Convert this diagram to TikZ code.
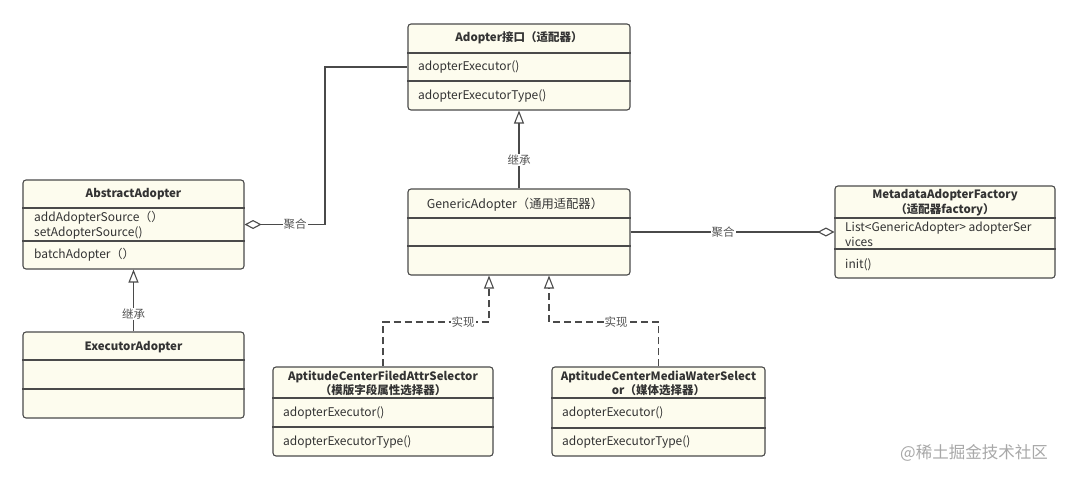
\documentclass[tikz,border=0pt]{standalone}
\usepackage{fontspec}
\setmainfont{Noto Sans CJK SC}
\usetikzlibrary{arrows.meta,calc}
\definecolor{boxfill}{HTML}{FDFCEE}
\definecolor{linec}{HTML}{4A4A4A}
\definecolor{txt}{HTML}{333333}
\definecolor{ltxt}{HTML}{555555}
\definecolor{wm}{HTML}{A8A8A8}
\tikzset{
  cls/.style={draw=linec, line width=1.1pt, fill=boxfill, rounded corners=3pt, inner sep=0pt},
  div/.style={draw=linec, line width=1.1pt},
  hdr/.style={font=\fontsize{11.5}{14.5}\selectfont\bfseries, text=txt, inner sep=0pt, align=center},
  hdrn/.style={font=\fontsize{12.3}{14}\selectfont, text=txt, inner sep=0pt, align=center},
  row/.style={font=\fontsize{12}{15}\selectfont, text=txt, inner sep=0pt, anchor=west, align=left},
  conn/.style={draw=linec, line width=1.1pt},
  inh/.style={conn, -{Triangle[open, length=13pt, width=10pt]}},
  real/.style={conn, dash pattern=on 7pt off 4pt, -{Triangle[open, length=13pt, width=10pt]}},
  aggs/.style={conn, {Diamond[open, length=17pt, width=9pt]}-},
  agge/.style={conn, -{Diamond[open, length=17pt, width=9pt]}},
  lbl/.style={fill=white, inner sep=1pt, font=\fontsize{11.5}{13}\selectfont, text=ltxt},
}
\begin{document}
\begin{tikzpicture}[x=1pt, y=-1pt]
\useasboundingbox[fill=white] (0,0) rectangle (1080,480);

% Adopter interface
\node[cls, minimum width=222pt, minimum height=86pt] (ad) at (519,67) {};
\draw[div] (ad.west |- 0,53) -- (ad.east |- 0,53);
\draw[div] (ad.west |- 0,81) -- (ad.east |- 0,81);
\node[hdr] (adh) at (519,38) {Adopter接口（适配器）};
\node[row] (ad1) at (418,67) {adopterExecutor()};
\node[row] (ad2) at (418,96) {adopterExecutorType()};

% AbstractAdopter
\node[cls, minimum width=221pt, minimum height=89pt] (abs) at (133.5,224.5) {};
\draw[div] (abs.west |- 0,208) -- (abs.east |- 0,208);
\draw[div] (abs.west |- 0,241) -- (abs.east |- 0,241);
\node[hdr] (absh) at (133.5,194) {AbstractAdopter};
\node[row] (abs1) at (34,217.5) {addAdopterSource（）};
\node[row] (abs2) at (34,233) {setAdopterSource()};
\node[row] (abs3) at (34,255) {batchAdopter（）};

% GenericAdopter
\node[cls, minimum width=222pt, minimum height=86pt] (gen) at (519,232) {};
\draw[div] (gen.west |- 0,218) -- (gen.east |- 0,218);
\draw[div] (gen.west |- 0,246) -- (gen.east |- 0,246);
\node[hdrn] (genh) at (515,205) {GenericAdopter（通用适配器）};

% MetadataAdopterFactory
\node[cls, minimum width=220pt, minimum height=92pt] (meta) at (945,232) {};
\draw[div] (meta.west |- 0,218) -- (meta.east |- 0,218);
\draw[div] (meta.west |- 0,249) -- (meta.east |- 0,249);
\node[hdr] (metah) at (945,202.5) {MetadataAdopterFactory\\（适配器factory）};
\node[row] (meta1) at (845,234.5) {List<GenericAdopter> adopterSer\\vices};
\node[row] (meta2) at (845,265) {init()};

% ExecutorAdopter
\node[cls, minimum width=221pt, minimum height=86pt] (exe) at (133.5,375) {};
\draw[div] (exe.west |- 0,360) -- (exe.east |- 0,360);
\draw[div] (exe.west |- 0,389) -- (exe.east |- 0,389);
\node[hdr] (exeh) at (133.5,347) {ExecutorAdopter};

% AptitudeCenterFiledAttrSelector
\node[cls, minimum width=220pt, minimum height=89pt] (fil) at (383,411.5) {};
\draw[div] (fil.west |- 0,398) -- (fil.east |- 0,398);
\draw[div] (fil.west |- 0,427) -- (fil.east |- 0,427);
\node[hdr] (filh) at (383,383.5) {AptitudeCenterFiledAttrSelector\\（模版字段属性选择器）};
\node[row] (fil1) at (283,413) {adopterExecutor()};
\node[row] (fil2) at (283,442) {adopterExecutorType()};

% AptitudeCenterMediaWaterSelector
\node[cls, minimum width=213pt, minimum height=89pt] (med) at (658.5,411.5) {};
\draw[div] (med.west |- 0,398) -- (med.east |- 0,398);
\draw[div] (med.west |- 0,428) -- (med.east |- 0,428);
\node[hdr] (medh) at (658.5,383.5) {AptitudeCenterMediaWaterSelect\\or（媒体选择器）};
\node[row] (med1) at (562,413) {adopterExecutor()};
\node[row] (med2) at (562,442) {adopterExecutorType()};

% connectors
\coordinate (j1) at (325,0);
\draw[aggs] (abs.east) -- (abs.east -| j1) -- (j1 |- ad.west) -- (ad.west);
\node[lbl] (l1) at (295,224.5) {聚合};

\draw[inh] (gen.north) -- (ad.south);
\node[lbl] (l2) at (519,160) {继承};

\draw[agge] (gen.east) -- (meta.west);
\node[lbl] (l3) at (723,232) {聚合};

\draw[inh] (exe.north) -- (abs.south);
\node[lbl] (l4) at (133.5,314) {继承};

\coordinate (r1) at (0,322);
\draw[real] (fil.north) -- (fil.north |- r1) -- ($(gen.south |- r1)+(-30,0)$) -- ($(gen.south)+(-30,0)$);
\node[lbl] (l5) at (463,322) {实现};
\draw[real] (med.north) -- (med.north |- r1) -- ($(gen.south |- r1)+(30,0)$) -- ($(gen.south)+(30,0)$);
\node[lbl] (l6) at (616,322) {实现};

% watermark
\node[font=\fontsize{16.5}{18}\selectfont, text=wm, anchor=east, inner sep=0pt] (wmk) at (1048,453) {@稀土掘金技术社区};
\end{tikzpicture}
\end{document}
